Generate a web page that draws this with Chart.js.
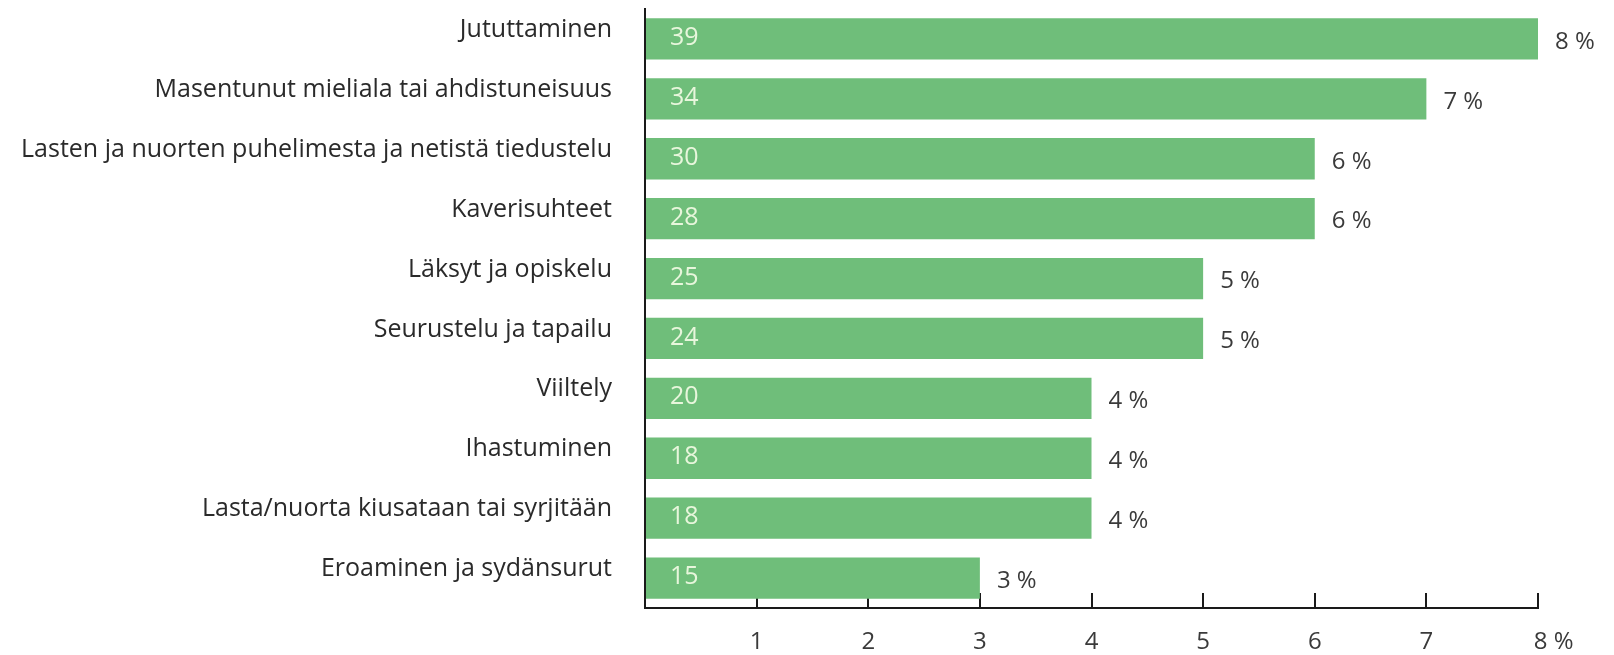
<!DOCTYPE html>
<html>
<head>
<meta charset="utf-8">
<script src="https://cdn.jsdelivr.net/npm/chart.js@4"></script>
<style>
  html, body { margin: 0; padding: 0; background: #fff; }
  #wrap { width: 1614px; height: 655px; }
</style>
</head>
<body>
<div id="wrap"><canvas id="chart" width="1614" height="655"></canvas></div>
<script>
const categories = [
  "Jututtaminen",
  "Masentunut mieliala tai ahdistuneisuus",
  "Lasten ja nuorten puhelimesta ja netistä tiedustelu",
  "Kaverisuhteet",
  "Läksyt ja opiskelu",
  "Seurustelu ja tapailu",
  "Viiltely",
  "Ihastuminen",
  "Lasta/nuorta kiusataan tai syrjitään",
  "Eroaminen ja sydänsurut"
];
const percents = [8, 7, 6, 6, 5, 5, 4, 4, 4, 3];
const counts = [39, 34, 30, 28, 25, 24, 20, 18, 18, 15];

const FONT = "'Open Sans', sans-serif";

// draws the count inside each bar and the percentage after it
const barLabels = {
  id: "barLabels",
  afterDatasetsDraw(chart) {
    const ctx = chart.ctx;
    const meta = chart.getDatasetMeta(0);
    ctx.save();
    ctx.textBaseline = "middle";
    ctx.textAlign = "left";
    meta.data.forEach((bar, i) => {
      ctx.font = "25px " + FONT;
      ctx.fillStyle = "#e8f6dc";
      ctx.fillText(counts[i], bar.base + 24, bar.y - 1);
      ctx.font = "24px " + FONT;
      ctx.fillStyle = "#3a3a3a";
      ctx.fillText(percents[i] + " %", bar.x + 17, bar.y + 3);
    });
    ctx.restore();
  }
};

new Chart(document.getElementById("chart").getContext("2d"), {
  type: "bar",
  data: {
    labels: categories,
    datasets: [{
      data: percents,
      backgroundColor: "#6fbe7a",
      borderWidth: 0,
      barPercentage: 0.69,
      categoryPercentage: 1
    }]
  },
  options: {
    indexAxis: "y",
    responsive: false,
    animation: false,
    layout: { padding: { top: 9, right: 76, bottom: 0, left: 0 } },
    plugins: {
      legend: { display: false },
      tooltip: { enabled: false }
    },
    scales: {
      x: {
        min: 0,
        max: 8,
        afterFit: (scale) => {
          scale.height = 47;
          scale.paddingLeft = 0;
          scale.paddingRight = 0;
        },
        border: { display: true, color: "#1a1a1a", width: 2 },
        grid: { display: true, drawOnChartArea: false, drawTicks: true, tickLength: -15, color: "#1a1a1a", lineWidth: 2 },
        ticks: {
          stepSize: 1,
          padding: 35,
          color: "#3a3a3a",
          font: { family: FONT, size: 24 },
          callback: (v) => v === 0 ? "" : (v === 8 ? "     8 %" : String(v))
        }
      },
      y: {
        afterFit: (scale) => {
          scale.width = 645;
          scale.paddingTop = 0;
          scale.paddingBottom = 0;
        },
        border: { display: true, color: "#1a1a1a", width: 2 },
        grid: { display: false },
        ticks: {
          padding: 25,
          labelOffset: -9,
          color: "#2a2a2a",
          font: { family: FONT, size: 25 }
        }
      }
    }
  },
  plugins: [barLabels]
});
</script>
</body>
</html>
